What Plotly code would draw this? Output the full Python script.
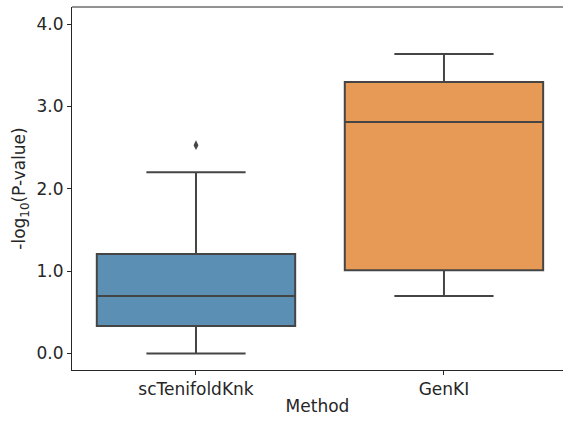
import plotly.graph_objects as go

methods = ["scTenifoldKnk", "GenKI"]
q1 = [0.334, 1.01]
median = [0.699, 2.81]
q3 = [1.209, 3.295]
lower_whisker = [0.0, 0.699]
upper_whisker = [2.20, 3.635]
outlier_method = [0]
outlier_values = [2.53]
fills = ["#5b90b4", "#e79a56"]
y_ticks = [0.0, 1.0, 2.0, 3.0, 4.0]

fig = go.Figure()
for i, m in enumerate(methods):
    fig.add_trace(go.Box(
        x=[i], q1=[q1[i]], median=[median[i]], q3=[q3[i]],
        lowerfence=[lower_whisker[i]], upperfence=[upper_whisker[i]],
        width=0.8, whiskerwidth=0.5, fillcolor=fills[i],
        line=dict(color="#454545", width=2), name=m, showlegend=False,
        hoverinfo="skip",
    ))
fig.add_trace(go.Scatter(
    x=outlier_method, y=outlier_values, mode="markers",
    marker=dict(symbol="diamond-tall", size=7, color="#454545"),
    showlegend=False,
))

font = dict(family="DejaVu Sans", size=17, color="#262626")
fig.update_layout(
    width=563, height=421,
    margin=dict(l=72, r=0, t=7, b=51),
    plot_bgcolor="white", paper_bgcolor="white",
    font=font,
    xaxis=dict(
        range=[-0.5, 1.48], tickvals=[0, 1], ticktext=methods,
        showline=True, linecolor="#262626", linewidth=1,
        ticks="outside", ticklen=4, tickcolor="#262626",
        showgrid=False, zeroline=False,
        title=dict(text="Method", font=font, standoff=1),
    ),
    yaxis=dict(
        range=[-0.2, 4.207], tickvals=y_ticks, tickformat=".1f",
        showline=True, linecolor="#262626", linewidth=1,
        ticks="outside", ticklen=4, tickcolor="#262626",
        showgrid=False, zeroline=False,
        title=dict(text="-log<sub>10</sub>(P-value)", font=font, standoff=6),
    ),
)
fig.add_shape(type="line", xref="paper", yref="paper", x0=0, x1=1, y0=1, y1=1,
              line=dict(color="#262626", width=1))
fig.write_html("out.html")
